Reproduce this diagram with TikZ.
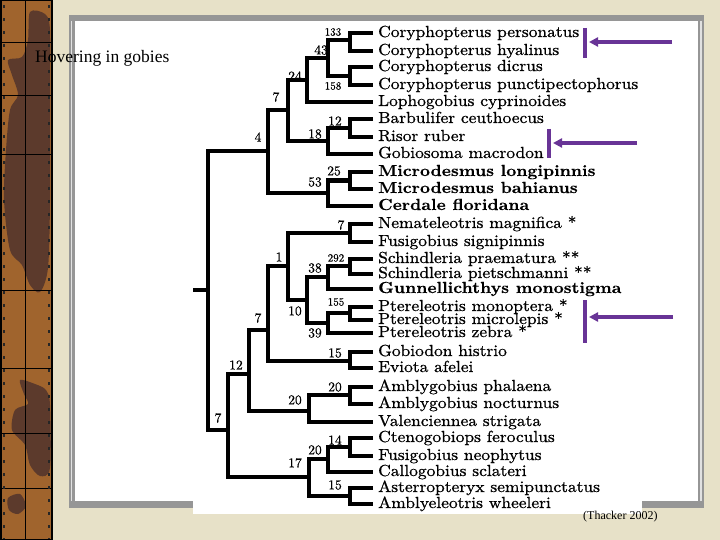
\documentclass[tikz,border=0pt]{standalone}
\usepackage{fontspec}
\usepackage{graphicx}
\usetikzlibrary{arrows.meta}
\newfontfamily\timesf{Liberation Serif}
\newfontfamily\tipreg{lmroman10-regular.otf}[FakeBold=0.8]
\newfontfamily\numreg{lmroman10-regular.otf}[FakeBold=0.4]
\newfontfamily\tipbold{lmroman10-bold.otf}[FakeBold=0.25]
\definecolor{slidebg}{RGB}{231,225,200}
\definecolor{stripbrown}{RGB}{160,100,45}
\definecolor{stripdark}{RGB}{92,58,44}
\definecolor{framegrey}{RGB}{150,150,150}
\definecolor{framelight}{RGB}{225,225,225}
\definecolor{arrowpurple}{RGB}{104,52,150}
\newcommand\tipfont{\tipreg\fontsize{16}{16}\selectfont}
\newcommand\bt[1]{{\tipbold #1}}
\newcommand\sx[1]{\scalebox{1.09}[1]{#1}}
\tikzset{
  branch/.style={line width=4.5pt, line join=miter},
  tiplabel/.style={anchor=base west, inner sep=0pt, font=\tipfont},
  numlabel/.style={inner sep=0pt, font=\numreg\fontsize{13.5}{13.5}\selectfont},
  smallnum/.style={inner sep=0pt, font=\numreg\fontsize{11}{11}\selectfont},
  marker/.style={draw=arrowpurple, line width=4pt},
  pointer/.style={draw=arrowpurple, line width=3.2pt, -{Triangle[length=9pt,width=9pt]}},
  stripline/.style={draw=black, line width=0.8pt},
}
\begin{document}
\begin{tikzpicture}[x=1pt,y=-1pt]
\useasboundingbox (0,0) rectangle (720,540);
% slide background
\fill[slidebg] (0,0) rectangle (720,540);
% left decorative strip
\fill[stripbrown] (0,0) rectangle (53,540);
\fill[stripdark] plot[smooth cycle] coordinates {(30,12) (45,14) (50,30) (50,100) (50,200) (48,268) (40,292) (30,285) (22,265) (10,250) (4,200) (6,150) (10,110) (18,95) (12,75) (8,60) (22,57) (28,40)};
\fill[stripdark] plot[smooth cycle] coordinates {(20,380) (35,384) (46,390) (50,405) (50,468) (40,476) (30,465) (25,445) (12,430) (15,410) (28,404) (24,394)};
\fill[stripdark] plot[smooth cycle] coordinates {(8,498) (20,494) (26,506) (18,514) (9,510)};
\draw[stripline] (25,0) -- (25,540);
\foreach \yy in {42,95,154,290,368,433,488}
  \draw[stripline] (2,\yy) -- (51,\yy);
\foreach \k in {0,...,41} {
  \fill[black!85] (2.5,5+13*\k) rectangle (5,8+13*\k);
  \fill[black!85] (47.5,5+13*\k) rectangle (50,8+13*\k);
}
\draw[line width=1.5pt] (0.75,0.75) rectangle (52,539.25);
\draw[line width=2.5pt] (52,0) -- (52,540);
% framed panel
\fill[framegrey] (69,15) rectangle (704,508);
\fill[white] (74.5,21) rectangle (698,501);
\draw[framelight, line width=1.2pt] (71.8,21) -- (71.8,501);
\draw[framelight, line width=1.2pt] (701,21) -- (701,501);
% tree image area
\fill[white] (193,21) rectangle (642,514);
% title
\node[anchor=base west, inner sep=0pt, font=\timesf\fontsize{17.5}{17.5}\selectfont] (title) at (35,63) {Hovering in gobies};
% tip coordinates and labels
\foreach \i/\yy/\txt in {
  1/33/Coryphopterus personatus,
  2/51/Coryphopterus hyalinus,
  3/67/Coryphopterus dicrus,
  4/85/Coryphopterus punctipectophorus,
  5/102/Lophogobius cyprinoides,
  6/119/Barbulifer ceuthoecus,
  7/137/Risor ruber,
  8/154/Gobiosoma macrodon,
  9/172/\bt{Microdesmus longipinnis},
  10/189/\bt{Microdesmus bahianus},
  11/206/\bt{Cerdale floridana},
  12/224/Nemateleotris magnifica *,
  13/242/Fusigobius signipinnis,
  14/259/Schindleria praematura **,
  15/274/Schindleria pietschmanni **,
  16/289/\bt{Gunnellichthys monostigma},
  17/307/Ptereleotris monoptera *,
  18/320/Ptereleotris microlepis *,
  19/333/Ptereleotris zebra *,
  20/352/Gobiodon histrio,
  21/368/Eviota afelei,
  22/387/Amblygobius phalaena,
  23/404/Amblygobius nocturnus,
  24/422/Valenciennea strigata,
  25/438/Ctenogobiops feroculus,
  26/456/Fusigobius neophytus,
  27/472/Callogobius sclateri,
  28/488/Asterropteryx semipunctatus,
  29/504/Amblyeleotris wheeleri} {
  \coordinate (t\i) at (373,\yy);
  \node[tiplabel] (lab\i) at (378,\yy+4) {\sx{\txt}};
}
% internal nodes
\coordinate (c133) at (350,40);
\coordinate (c158) at (350,76);
\coordinate (n43) at (328,58);
\coordinate (n24) at (307,80);
\coordinate (c12) at (350,128);
\coordinate (n18) at (328,141);
\coordinate (n7a) at (288,110);
\coordinate (c25) at (350,180.5);
\coordinate (n53) at (328,193);
\coordinate (n4) at (268,151);
\coordinate (root) at (208,290);
\coordinate (stem) at (193,290);
\coordinate (c7b) at (350,233);
\coordinate (c292) at (350,266);
\coordinate (n38) at (328,277);
\coordinate (c155) at (350,313);
\coordinate (n39) at (328,323);
\coordinate (n10) at (307,300);
\coordinate (n1) at (288,266);
\coordinate (c15a) at (350,361);
\coordinate (n7c) at (268,330);
\coordinate (c20a) at (350,395);
\coordinate (n20) at (309,411);
\coordinate (n12) at (249,374);
\coordinate (c14) at (350,447);
\coordinate (n20b) at (328,459);
\coordinate (c15b) at (350,496);
\coordinate (n17) at (309,477);
\coordinate (n7d) at (228,430);
% branches
\draw[branch] (t1) -| (c133) |- (t2);
\draw[branch] (t3) -| (c158) |- (t4);
\draw[branch] (c133) -| (n43) |- (c158);
\draw[branch] (n43) -| (n24) |- (t5);
\draw[branch] (t6) -| (c12) |- (t7);
\draw[branch] (c12) -| (n18) |- (t8);
\draw[branch] (n24) -| (n7a) |- (n18);
\draw[branch] (t9) -| (c25) |- (t10);
\draw[branch] (c25) -| (n53) |- (t11);
\draw[branch] (n7a) -| (n4) |- (n53);
\draw[branch] (t12) -| (c7b) |- (t13);
\draw[branch] (t14) -| (c292) |- (t15);
\draw[branch] (c292) -| (n38) |- (t16);
\draw[branch] (t17) -| (c155) |- (t18);
\draw[branch] (c155) -| (n39) |- (t19);
\draw[branch] (n38) -| (n10) |- (n39);
\draw[branch] (c7b) -| (n1) |- (n10);
\draw[branch] (t20) -| (c15a) |- (t21);
\draw[branch] (n1) -| (n7c) |- (c15a);
\draw[branch] (t22) -| (c20a) |- (t23);
\draw[branch] (c20a) -| (n20) |- (t24);
\draw[branch] (n7c) -| (n12) |- (n20);
\draw[branch] (t25) -| (c14) |- (t26);
\draw[branch] (c14) -| (n20b) |- (t27);
\draw[branch] (t28) -| (c15b) |- (t29);
\draw[branch] (n20b) -| (n17) |- (c15b);
\draw[branch] (n12) -| (n7d) |- (n17);
\draw[branch] (n4) -| (root) |- (n7d);
\draw[branch] (stem) -- (root);
% node support labels
\node[smallnum] (l133) at (333,32) {133};
\node[numlabel] (l43) at (321,50) {43};
\node[smallnum] (l158) at (333,86) {158};
\node[numlabel] (l24) at (295,76) {24};
\node[numlabel] (l7a) at (276,97) {7};
\node[numlabel] (l4) at (258,137) {4};
\node[numlabel] (l12a) at (335,121) {12};
\node[numlabel] (l18) at (315,134) {18};
\node[numlabel] (l25) at (334,171) {25};
\node[numlabel] (l53) at (315,182) {53};
\node[numlabel] (l7b) at (341,225) {7};
\node[numlabel] (l1) at (279,257) {1};
\node[smallnum] (l292) at (336,258) {292};
\node[numlabel] (l38) at (315,268) {38};
\node[numlabel] (l10) at (295,311) {10};
\node[smallnum] (l155) at (336,302) {155};
\node[numlabel] (l39) at (315,333) {39};
\node[numlabel] (l7c) at (258,318) {7};
\node[numlabel] (l15a) at (335,353) {15};
\node[numlabel] (l12b) at (236,365) {12};
\node[numlabel] (l20a) at (335,387) {20};
\node[numlabel] (l20) at (295,400) {20};
\node[numlabel] (l7d) at (218,418) {7};
\node[numlabel] (l14) at (335,440) {14};
\node[numlabel] (l20b) at (315,450) {20};
\node[numlabel] (l17) at (295,463) {17};
\node[numlabel] (l15b) at (335,485) {15};
% purple markers and arrows
\coordinate (b1t) at (585,28); \coordinate (b1b) at (585,58);
\coordinate (a1s) at (672,42); \coordinate (a1e) at (589,42);
\coordinate (b2t) at (549,129); \coordinate (b2b) at (549,158);
\coordinate (a2s) at (637,143); \coordinate (a2e) at (553,143);
\coordinate (b3t) at (585,300); \coordinate (b3b) at (585,343);
\coordinate (a3s) at (673,317); \coordinate (a3e) at (589,317);
\draw[marker] (b1t) -- (b1b);
\draw[pointer] (a1s) -- (a1e);
\draw[marker] (b2t) -- (b2b);
\draw[pointer] (a2s) -- (a2e);
\draw[marker] (b3t) -- (b3b);
\draw[pointer] (a3s) -- (a3e);
% citation
\node[anchor=base west, inner sep=0pt, font=\timesf\fontsize{12}{12}\selectfont] (cite) at (583,519) {(Thacker 2002)};
\end{tikzpicture}
\end{document}
